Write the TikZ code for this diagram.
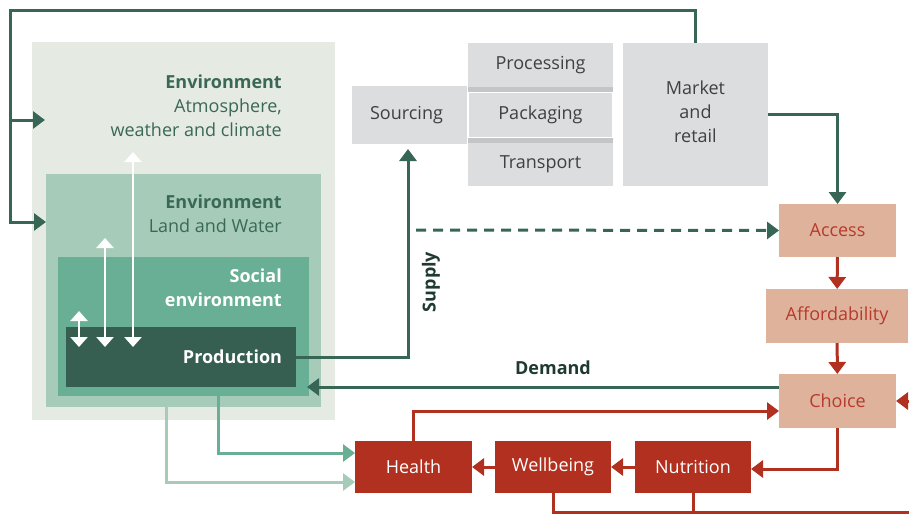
\documentclass[tikz,border=0pt]{standalone}
\usepackage{fontspec}
\setmainfont{Open Sans}
\usetikzlibrary{arrows.meta}
\definecolor{envA}{HTML}{E5EAE3}
\definecolor{envB}{HTML}{A7CBB9}
\definecolor{envC}{HTML}{68AF95}
\definecolor{envD}{HTML}{365F52}
\definecolor{envText}{HTML}{3A6857}
\definecolor{lineG}{HTML}{386656}
\definecolor{boxGrey}{HTML}{DCDDDF}
\definecolor{stripGrey}{HTML}{C4C5C7}
\definecolor{salmon}{HTML}{DFB39B}
\definecolor{redText}{HTML}{B8392D}
\definecolor{redBox}{HTML}{B1301F}
\definecolor{darkLabel}{HTML}{1E3A31}
\begin{document}
\begin{tikzpicture}[x=1pt, y=-1pt, font=\fontsize{18}{24}\selectfont,
    box/.style={inner sep=0pt, outer sep=0pt},
    greybox/.style={box, fill=boxGrey, text=black!75, align=center},
    foodbox/.style={box, fill=salmon, text=redText, minimum height=54pt},
    outcome/.style={box, fill=redBox, text=white, minimum width=117pt, minimum height=52pt},
    envlabel/.style={inner sep=0pt, align=right, text=envText},
    gline/.style={draw=lineG, line width=3pt},
    rline/.style={draw=redBox, line width=3pt},
    arr/.style={-{Triangle[width=17pt,length=12pt]}},
    wline/.style={draw=white, line width=2.5pt, {Triangle[width=17pt,length=10pt]}-{Triangle[width=17pt,length=10pt]}}]
  \path[use as bounding box, clip] (0,0) rectangle (909,514);

  % nested environments
  \node[box, fill=envA, minimum width=303pt, minimum height=378pt] (atmo) at (183.5,231) {};
  \node[box, fill=envB, minimum width=275pt, minimum height=233pt] (land) at (183.5,290.5) {};
  \node[box, fill=envC, minimum width=251pt, minimum height=139pt] (social) at (183.5,326.5) {};
  \node[box, fill=envD, minimum width=230pt, minimum height=60pt, text width=202pt,
        align=right, text=white, font=\fontsize{18}{24}\selectfont\bfseries] (prod) at (181,357) {Production};
  \node[envlabel, anchor=north east] (atmolabel) at (282,75) {\textbf{Environment}\\Atmosphere,\\weather and climate};
  \node[envlabel, anchor=north east] (landlabel) at (282,195) {\textbf{Environment}\\Land and Water};
  \node[envlabel, anchor=north east, text=white] (sociallabel) at (282,269) {\textbf{Social}\\\textbf{environment}};
  \foreach \x/\y in {79/311, 105/238, 133/152}
    \draw[wline] (\x,\y) -- (\x,347);

  % supply chain
  \node[greybox, minimum width=115pt, minimum height=58pt, text width=110pt] (sourcing) at (409.5,115) {\hspace*{-6pt}Sourcing};
  \node[box, fill=stripGrey, minimum width=145pt, minimum height=143pt] (chain) at (540.5,114.5) {};
  \node[greybox, minimum width=145pt, minimum height=44pt] (processing) at (540.5,65) {Processing};
  \node[greybox, draw=white, line width=1.2pt, minimum width=144pt, minimum height=45pt] (packaging) at (540.5,115) {Packaging};
  \node[greybox, minimum width=145pt, minimum height=43pt] (transport) at (540.5,164.5) {Transport};
  \node[greybox, minimum width=145pt, minimum height=143pt, text depth=6pt] (market) at (695.5,114.5) {Market\\and\\retail};

  % food environment
  \node[foodbox, minimum width=117pt, minimum height=53pt] (access) at (837.5,230.5) {Access};
  \node[foodbox, minimum width=142pt] (afford) at (837,316) {Affordability};
  \node[foodbox, minimum width=117pt] (choice) at (837.5,401) {Choice};

  % outcomes
  \node[outcome] (health) at (413.5,467) {Health};
  \node[outcome, minimum width=116pt] (wellbeing) at (553,467) {Wellbeing};
  \node[outcome, minimum width=116pt] (nutrition) at (693,467) {Nutrition};

  % green connectors
  \coordinate (corner) at (10,10);
  \coordinate (split) at (10,120);
  \coordinate (dashstart) at (416,230);
  \draw[gline, arr] (market.north) |- (corner) |- ([yshift=68.5pt]land.west);
  \draw[gline, arr] (split) -- ([xshift=13pt,yshift=111pt]atmo.west);
  \draw[gline, arr] (market.east) -| (access.north);
  \draw[gline, arr, shorten >=5pt] (prod.east) -| ([xshift=-1.5pt]sourcing.south);
  \draw[gline, arr, dash pattern=on 10pt off 7pt] (dashstart) -- (access.west);
  \draw[gline, arr] ([yshift=14pt]choice.west) -- ([xshift=11pt]prod.south east);
  \node[font=\fontsize{18}{24}\selectfont\bfseries, text=darkLabel, rotate=90] (supply) at (431,282) {Supply};
  \node[font=\fontsize{18}{24}\selectfont\bfseries, text=darkLabel] (demand) at (553,368) {Demand};
  \draw[draw=envC, line width=3pt, arr] ([xshift=34.5pt]social.south) |- ([yshift=14pt]health.west);
  \draw[draw=envB, line width=3pt, arr] ([xshift=-17.5pt]land.south) |- ([yshift=-15pt]health.west);

  % red connectors
  \coordinate (farright) at (920,512);
  \draw[rline, arr] (access) -- (afford);
  \draw[rline, arr] (afford) -- (choice);
  \draw[rline, arr] (health.north) |- ([yshift=-10pt]choice.west);
  \draw[rline, arr] (choice.south) |- ([yshift=-2pt]nutrition.east);
  \draw[rline, arr] (nutrition) -- (wellbeing);
  \draw[rline, arr] (wellbeing) -- (health);
  \draw[rline] (nutrition.south) -- ++(0,19);
  \draw[rline, arr] (wellbeing.south) |- (farright) |- (choice.east);
\end{tikzpicture}
\end{document}
